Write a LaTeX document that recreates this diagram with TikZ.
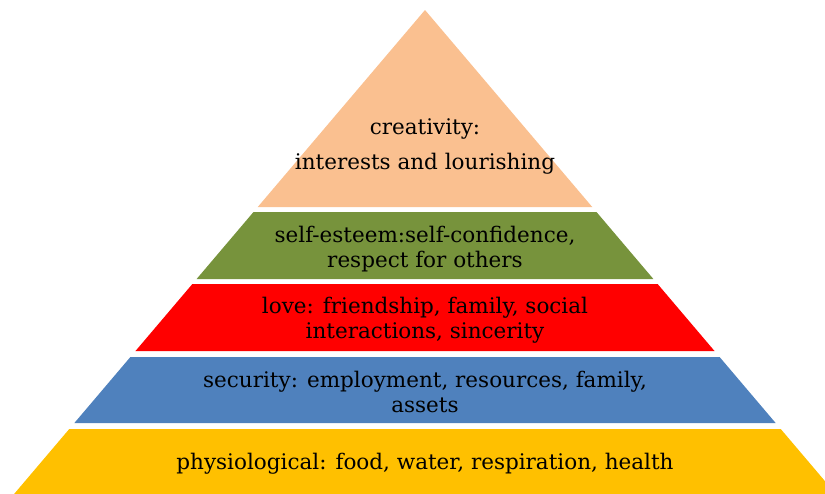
\documentclass[tikz,border=0pt]{standalone}
\usepackage{fontspec}
\setmainfont{DejaVu Serif}
\begin{document}
\definecolor{peach}{HTML}{FAC090}
\definecolor{olive}{HTML}{77933C}
\definecolor{brightred}{HTML}{FF0000}
\definecolor{steel}{HTML}{4F81BD}
\definecolor{amber}{HTML}{FFC000}
% one horizontal slice of the pyramid between heights #1 and #2
\newcommand\pyrlayer[3]{%
  \pgfmathsetmacro\xa{0.849*(#1-10)}%
  \pgfmathsetmacro\xb{0.849*(#2-10)}%
  \fill[#3] (425-\xa,#1) -- (425+\xa,#1) -- (425+\xb,#2) -- (425-\xb,#2) -- cycle;}
\begin{tikzpicture}[x=1pt,y=-1pt,
  label/.style={align=center,text=black,font=\fontsize{21.5}{25.5}\selectfont,inner sep=0pt}]
  \useasboundingbox (0,0) rectangle (825,493);
  \clip (0,0) rectangle (825,493);
  \pyrlayer{10}{207}{peach}
  \pyrlayer{212}{279}{olive}
  \pyrlayer{284}{351}{brightred}
  \pyrlayer{357}{423}{steel}
  \pyrlayer{429}{520}{amber}
  \node[label,font=\fontsize{21.5}{35}\selectfont] (creat) at (425,146) {creativity:\\interests and lourishing};
  \node[label] (esteem) at (425,249) {self-esteem:self-confidence,\\respect for others};
  \node[label] (love) at (425,320) {love: friendship, family, social\\interactions, sincerity};
  \node[label] (secur) at (425,392) {security: employment, resources, family,\\assets};
  \node[label] (phys) at (425,464) {physiological: food, water, respiration, health};
\end{tikzpicture}
\end{document}
